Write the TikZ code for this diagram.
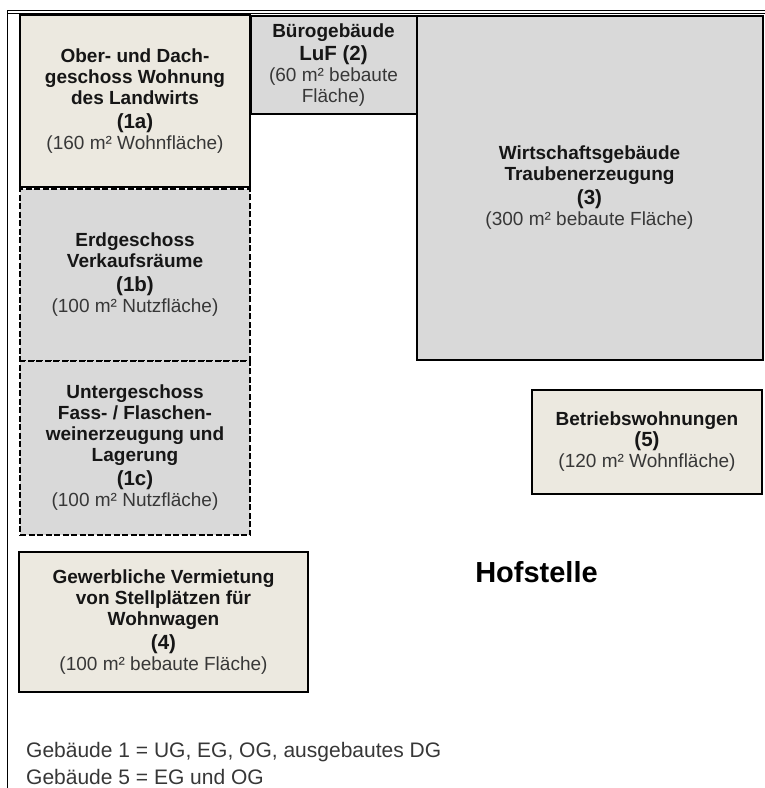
\documentclass[tikz,border=0pt]{standalone}
\usepackage{fontspec}
\setmainfont{Liberation Sans}
\usetikzlibrary{positioning}
\definecolor{hbeige}{RGB}{236,233,224}
\definecolor{hgray}{RGB}{217,217,217}
\definecolor{hdark}{RGB}{22,22,22}
\definecolor{hsoft}{RGB}{55,55,55}
\newcommand{\nrline}[1]{{\fontsize{20.5}{22}\selectfont #1}}
\newcommand{\arealine}[1]{{\mdseries\color{hsoft}#1}}

\begin{document}
\begin{tikzpicture}[x=1pt, y=-1pt,
  house/.style={draw=black, line width=2pt, align=center, inner sep=0pt,
    text=hdark, font=\bfseries\fontsize{19}{21}\selectfont},
  floor/.style={house, dash pattern=on 6pt off 2.5pt, fill=hgray},
  note/.style={anchor=base west, inner sep=0pt, text=hsoft,
    font=\fontsize{21}{27}\selectfont}]
  \useasboundingbox (0,0) rectangle (765,788);
  % frame of the farmstead
  \draw[line width=0.9pt] (7,788) -- (7,10.5) -- (765,10.5);
  \draw[line width=0.9pt] (7,13) -- (765,13);
  % building 1, three storeys
  \node[floor, minimum width=230, minimum height=172] (b1b) at (135,275) {Erdgeschoss\\Verkaufsräume\\[3pt]\nrline{(1b)}\\\arealine{(100 m² Nutzfläche)}};
  \node[floor, minimum width=230, minimum height=174] (b1c) at (135,448) {Untergeschoss\\Fass- / Flaschen-\\weinerzeugung und\\Lagerung\\[3pt]\nrline{(1c)}\\\arealine{(100 m² Nutzfläche)}};
  \node[house, fill=hbeige, minimum width=230, minimum height=172] (b1a) at (135,101) {Ober- und Dach-\\geschoss Wohnung\\des Landwirts\\[3pt]\nrline{(1a)}\\\arealine{(160 m² Wohnfläche)}};
  % buildings 2 and 3
  \node[house, fill=hgray, minimum width=166, minimum height=98] (b2) at (333.5,65) {Bürogebäude\\[2pt]\nrline{LuF (2)}\\\arealine{(60 m² bebaute}\\\arealine{Fläche)}};
  \node[house, fill=hgray, minimum width=346, minimum height=344] (b3) at (589.5,188) {Wirtschaftsgebäude\\Traubenerzeugung\\[3pt]\nrline{(3)}\\\arealine{(300 m² bebaute Fläche)}};
  % buildings 4 and 5
  \node[house, fill=hbeige, minimum width=230, minimum height=104] (b5) at (647,442) {Betriebswohnungen\\\nrline{(5)}\\\arealine{(120 m² Wohnfläche)}};
  \node[house, fill=hbeige, minimum width=289, minimum height=140] (b4) at (163.5,622) {Gewerbliche Vermietung\\von Stellplätzen für\\Wohnwagen\\[3pt]\nrline{(4)}\\\arealine{(100 m² bebaute Fläche)}};
  % labels
  \node[anchor=base, inner sep=0pt, text=black, font=\bfseries\fontsize{29}{34}\selectfont] (hof) at (536.5,582.7) {Hofstelle};
  \node[note] (note1) at (26,757) {Gebäude 1 = UG, EG, OG, ausgebautes DG};
  \node[note] (note2) at (26,784) {Gebäude 5 = EG und OG};
\end{tikzpicture}
\end{document}
